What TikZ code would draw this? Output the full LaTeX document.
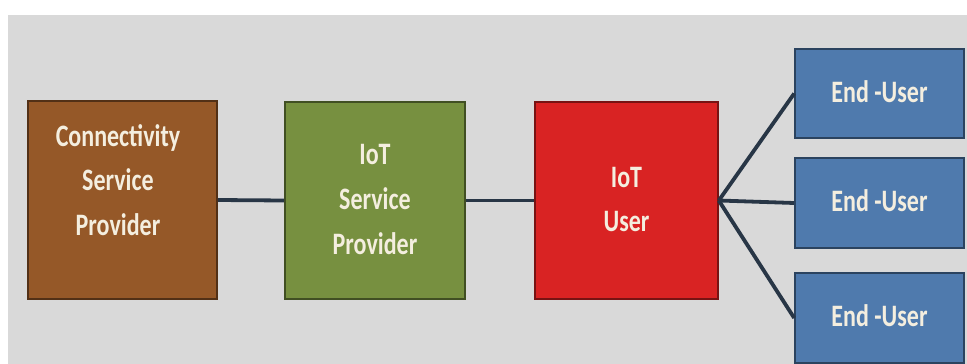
\documentclass[tikz,border=0pt]{standalone}
\usepackage{fontspec}
\setmainfont{Carlito}
\usepackage{graphicx}
\definecolor{bggrey}{HTML}{D9D9D9}
\definecolor{brownfill}{HTML}{955828}
\definecolor{greenfill}{HTML}{779040}
\definecolor{redfill}{HTML}{D92323}
\definecolor{bluefill}{HTML}{4F7AAD}
\definecolor{linkcol}{HTML}{283646}
\definecolor{labelcol}{HTML}{F4EEDF}
% tall condensed label: several centred lines, stretched vertically
\newcommand{\talllabel}[1]{\scalebox{1}[1.3]{\begin{tabular}{@{}c@{}}#1\end{tabular}}}
\begin{document}
\begin{tikzpicture}[x=1pt,y=-1pt,
  labelfont/.style={text=labelcol, font=\fontsize{24}{34.6}\selectfont\bfseries},
  box/.style={draw=#1!55!black, fill=#1, line width=1.6pt, inner sep=0pt, labelfont},
  link/.style={draw=linkcol, line width=3.8pt}]
\useasboundingbox (0,0) rectangle (967,364);
\fill[bggrey] (8,15) rectangle (967,364);
% main chain
\node[box=brownfill, minimum width=189pt, minimum height=198pt] (csp) at (122.5,200) {};
\node[labelfont] (csplabel) at (118,182)
  {\talllabel{Connectivity\\Service\\Provider}};
\node[box=greenfill, minimum width=180pt, minimum height=197pt] (isp) at (375,200.5)
  {\talllabel{IoT\\Service\\Provider}};
\node[box=redfill, minimum width=183pt, minimum height=197pt] (iu) at (626.5,200.5)
  {\talllabel{IoT\\User}};
% end users
\node[box=bluefill, minimum width=169pt, minimum height=89pt] (eu1) at (879.5,93.5)
  {\talllabel{End -User}};
\node[box=bluefill, minimum width=169pt, minimum height=90pt] (eu2) at (879.5,203)
  {\talllabel{End -User}};
\node[box=bluefill, minimum width=169pt, minimum height=90pt] (eu3) at (879.5,318)
  {\talllabel{End -User}};
% connectors
\draw[link] (csp.east) -- (isp.west);
\draw[link] (isp.east) -- (iu.west);
\draw[link] (iu.east) -- (eu1.west);
\draw[link] (iu.east) -- (eu2.west);
\draw[link] (iu.east) -- (eu3.west);
\end{tikzpicture}
\end{document}
